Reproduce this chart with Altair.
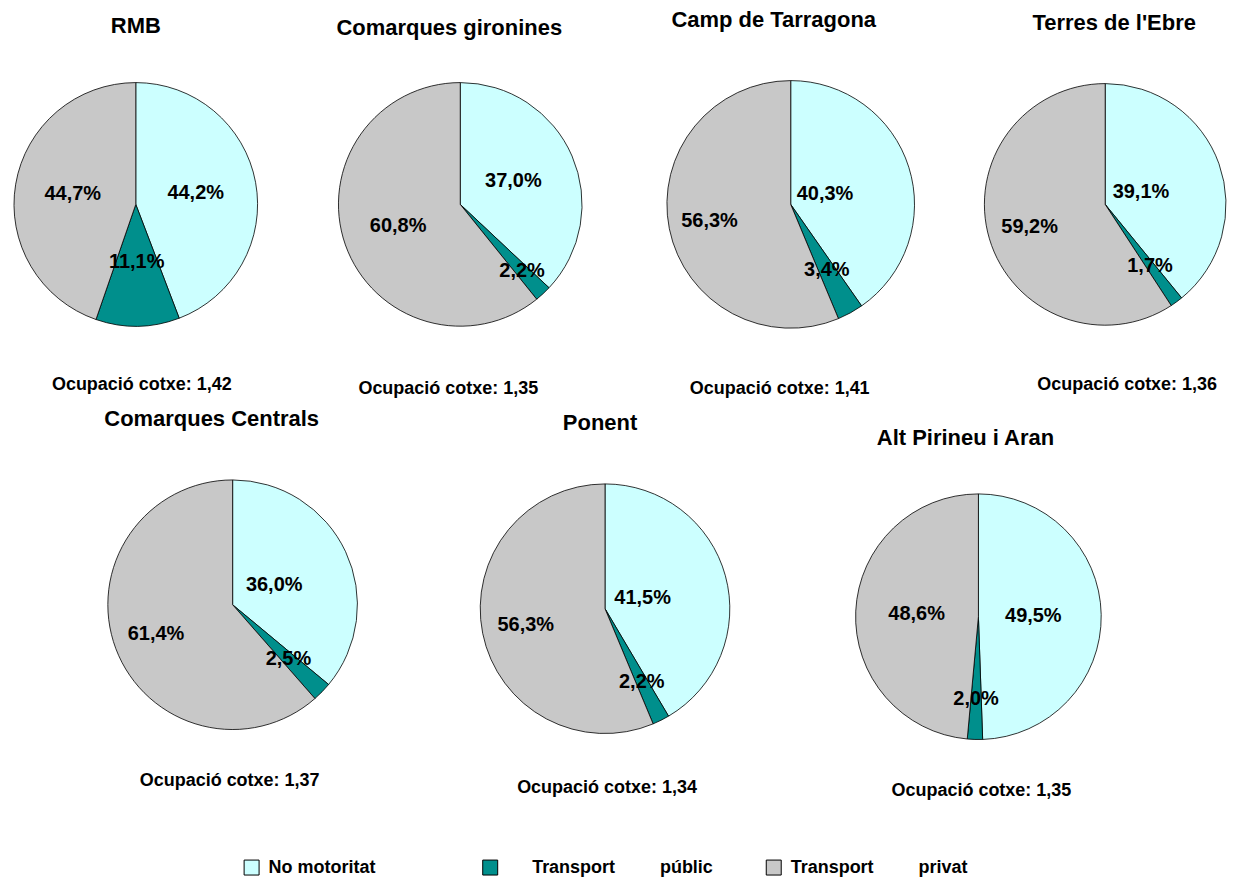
import altair as alt
import pandas as pd

# ---------------- data ----------------
regions = ["RMB", "Comarques gironines", "Camp de Tarragona", "Terres de l'Ebre",
           "Comarques Centrals", "Ponent", "Alt Pirineu i Aran"]
categories = ["No motoritat", "Transport públic", "Transport privat"]
no_motoritat = [44.2, 37.0, 40.3, 39.1, 36.0, 41.5, 49.5]
transport_public = [11.1, 2.2, 3.4, 1.7, 2.5, 2.2, 2.0]
transport_privat = [44.7, 60.8, 56.3, 59.2, 61.4, 56.3, 48.6]
ocupacio = [1.42, 1.35, 1.41, 1.36, 1.37, 1.34, 1.35]

# ---------------- style / layout ----------------
colors = ["#CCFFFF", "#008F8C", "#C8C8C8"]
FONT = "Liberation Sans"
label_radius = [[61, 58, 64], [58, 91, 66], [36, 75, 83], [38, 76, 79],
                [46, 78, 82], [39, 82, 81], [55, 82, 62]]
pie_radius = [122, 122, 124, 121, 125, 125, 123]
panel_w = [256, 278, 268, 244, 450, 276, 452]
panel_h = [250, 250, 250, 250, 250, 258, 274]
title_offset = [42, 40, 47, 45, 47, 45, 30]
title_dx = [0, -11, -17, 9, -21, -5, -13]
note_dx = [6, -12, -11, 22, -3, 2, 3]
note_y = [306, 310, 310, 306, 302, 309, 312]

ZW = "\u200b"
NB = "\u00a0"
legend_labels = {
    "No motoritat": "No" + NB + "motoritat" + NB * 11 + ZW,
    "Transport públic": ZW + NB * 5 + "Transport" + NB * 9 + "públic",
    "Transport privat": "Transport" + NB * 9 + "privat",
}
label_expr = " : ".join(
    [f"datum.label == '{k}' ? '{v}'" for k, v in legend_labels.items()]
) + " : datum.label"


def fmt(v, suffix="%"):
    return f"{v:.1f}".replace(".", ",") + suffix


def panel(i):
    vals = [no_motoritat[i], transport_public[i], transport_privat[i]]
    df = pd.DataFrame({
        "cat": categories,
        "val": vals,
        "ord": [0, 1, 2],
        "lab": [fmt(v) for v in vals],
    })
    base = alt.Chart(df).encode(
        theta=alt.Theta("val:Q", stack=True),
        order=alt.Order("ord:Q"),
    )
    arcs = base.mark_arc(outerRadius=pie_radius[i], stroke="black", strokeWidth=0.8).encode(
        color=alt.Color(
            "cat:N",
            scale=alt.Scale(domain=categories, range=colors),
            legend=alt.Legend(
                orient="none", legendX=235, legendY=780, direction="horizontal",
                title=None, symbolType="square", symbolSize=225,
                symbolStrokeColor="black", symbolStrokeWidth=1,
                labelFont=FONT, labelFontSize=18, labelFontWeight="bold",
                labelColor="black", labelLimit=400, labelOffset=8,
                columnPadding=50, labelExpr=label_expr,
            ),
        )
    )
    layers = [arcs]
    for k in range(3):
        layers.append(
            base.transform_calculate(
                shown=f"datum.ord == {k} ? datum.lab : ''"
            ).mark_text(
                font=FONT, fontSize=20, fontWeight="bold", color="black",
                radius=label_radius[i][k],
            ).encode(text="shown:N")
        )
    note_df = pd.DataFrame({"t": ["Ocupació cotxe: " + f"{ocupacio[i]:.2f}".replace(".", ",")]})
    note = alt.Chart(note_df).mark_text(
        font=FONT, fontSize=18, fontWeight="bold", color="black", baseline="middle"
    ).encode(
        x=alt.value(panel_w[i] / 2 + note_dx[i]),
        y=alt.value(note_y[i]),
        text="t:N",
    )
    layers.append(note)
    return alt.layer(*layers).properties(
        width=panel_w[i], height=panel_h[i],
        title=alt.TitleParams(
            regions[i], font=FONT, fontSize=22, fontWeight="bold", color="black",
            offset=title_offset[i], dx=title_dx[i], anchor="middle",
        ),
    )


row1 = alt.hconcat(*[panel(i) for i in range(4)], spacing=58).resolve_scale(theta="independent")
row2 = alt.hconcat(*[panel(i) for i in range(4, 7)], spacing=10).resolve_scale(theta="independent")

chart = alt.vconcat(row1, row2, spacing=10).resolve_scale(
    theta="independent", color="shared"
).properties(padding=0).configure_view(stroke=None)

chart.save("out.html", embed_options={"renderer": "svg", "actions": False})
